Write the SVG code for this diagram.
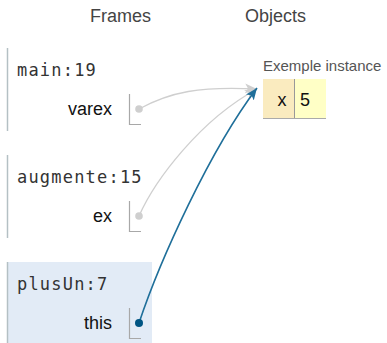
<svg xmlns="http://www.w3.org/2000/svg" width="387" height="343" viewBox="0 0 387 343">
  <style>
    .hdr { font-family: "Liberation Sans", Arial, sans-serif; font-size: 18px; fill: #444; text-anchor: middle; }
    .fname { font-family: "DejaVu Sans Mono", "Liberation Mono", monospace; font-size: 17px; letter-spacing: 1.2px; fill: #333; }
    .vname { font-family: "Liberation Sans", Arial, sans-serif; font-size: 18px; fill: #111; text-anchor: end; }
    .fborder { stroke: #b4c0c4; stroke-width: 1.5; fill: none; }
    .vbox { stroke: #a8a8a8; stroke-width: 1.2; fill: none; }
    .objlabel { font-family: "Liberation Sans", Arial, sans-serif; font-size: 15px; fill: #555; }
    .cell { font-family: "Liberation Sans", Arial, sans-serif; font-size: 18px; fill: #111; }
    .ref { fill: none; stroke-width: 1.3; }
    .ref.inactive { stroke: #cfcfcf; }
    .ref.active { stroke: #1f6f9a; stroke-width: 1.6; }
  </style>
  <defs>
    <marker id="arrow-gray" markerUnits="userSpaceOnUse" markerWidth="14" markerHeight="12" refX="12" refY="5" orient="auto">
      <path d="M0,0 L12,5 L0,10 L3,5 z" fill="#cfcfcf"/>
    </marker>
    <marker id="arrow-blue" markerUnits="userSpaceOnUse" markerWidth="14" markerHeight="12" refX="12" refY="5" orient="auto">
      <path d="M0,0 L12,5 L0,10 L3,5 z" fill="#1f6f9a"/>
    </marker>
  </defs>

  <!-- column headers -->
  <text class="hdr" x="120.5" y="22">Frames</text>
  <text class="hdr" x="275.5" y="22">Objects</text>

  <!-- stack frames -->
  <g id="frame-main">
    <line class="fborder" x1="7.5" y1="48" x2="7.5" y2="131"/>
    <text class="fname" x="17" y="76">main:19</text>
    <text class="vname" x="112" y="115">varex</text>
    <polyline class="vbox" points="129.5,94 129.5,124.5 141,124.5"/>
  </g>

  <g id="frame-augmente">
    <line class="fborder" x1="7.5" y1="155" x2="7.5" y2="238"/>
    <text class="fname" x="17" y="183">augmente:15</text>
    <text class="vname" x="112" y="222">ex</text>
    <polyline class="vbox" points="129.5,201 129.5,231.5 141,231.5"/>
  </g>

  <g id="frame-plusUn">
    <rect x="7" y="262" width="145" height="81" fill="#e2ebf6"/>
    <line class="fborder" x1="7.5" y1="262" x2="7.5" y2="343"/>
    <text class="fname" x="17" y="290">plusUn:7</text>
    <text class="vname" x="112" y="329">this</text>
    <polyline class="vbox" points="129.5,308 129.5,338.5 141,338.5"/>
  </g>

  <!-- heap object -->
  <g id="obj-exemple">
    <text class="objlabel" x="263" y="71">Exemple instance</text>
    <rect x="263" y="79" width="31" height="39" fill="#faebbf"/>
    <rect x="294" y="79" width="32" height="39" fill="#ffffc6"/>
    <line x1="294.5" y1="79" x2="294.5" y2="118" stroke="#999" stroke-width="1"/>
    <line x1="263" y1="118.5" x2="326" y2="118.5" stroke="#aaa" stroke-width="1"/>
    <text class="cell" x="282" y="106" text-anchor="middle">x</text>
    <text class="cell" x="300" y="106">5</text>
  </g>

  <!-- references from stack variables to the heap object -->
  <g id="connectors">
    <path class="ref inactive" d="M139,109 C170,92 200,86 257,89" marker-end="url(#arrow-gray)"/>
    <circle cx="139" cy="109" r="3.8" fill="#cfcfcf"/>
    <path class="ref inactive" d="M139,216 C155,180 200,120 257,89" marker-end="url(#arrow-gray)"/>
    <circle cx="139" cy="216" r="3.8" fill="#cfcfcf"/>
    <path class="ref active" d="M139,323 C160,260 210,150 257,88" marker-end="url(#arrow-blue)"/>
    <circle cx="139" cy="323" r="4" fill="#005583"/>
  </g>
</svg>
